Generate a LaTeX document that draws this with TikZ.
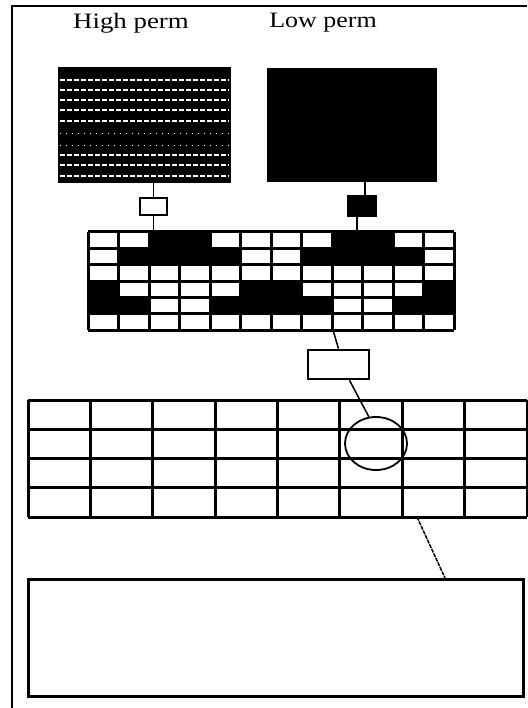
\documentclass[tikz,border=0pt]{standalone}
\usepackage{fontspec}
\setmainfont{Liberation Serif}
\usepackage{graphicx}
\usetikzlibrary{shapes.geometric}
\begin{document}
\begin{tikzpicture}[x=1pt,y=-1pt,
  framel/.style={line width=2pt},
  gridl/.style={line width=3pt},
  conn/.style={line width=1.5pt},
  boxn/.style={draw,line width=2.6pt,rectangle,inner sep=0pt},
  blockn/.style={rectangle,inner sep=0pt,anchor=north west},
  title/.style={font=\fontsize{22}{24}\selectfont,inner sep=0pt},
  whitedash/.style={white,line width=1.4pt,dash pattern=on 5pt off 2pt},
  whitedot/.style={white,line width=0.8pt,dash pattern=on 1pt off 5pt}]
\useasboundingbox (0,0) rectangle (527,708);
% outer frame (open at right and bottom)
\draw[framel] (12,708) -- (12,6) -- (527,6);
% titles
\node[title] (t1) at (131,23) {\scalebox{1.22}[1]{High perm}};
\node[title] (t2) at (323,23) {\scalebox{1.18}[1]{Low perm}};
% high perm fine grid
\node[blockn,fill=black,minimum width=173pt,minimum height=116pt] (hp) at (58,67) {};
\foreach \yy in {80,90,100,110,121,155,165,176}
  \draw[whitedash] (60,\yy) -- (229,\yy);
\foreach \yy in {133,145}
  \draw[whitedot] (60,\yy) -- (229,\yy);
% low perm block
\node[blockn,fill=black,minimum width=170pt,minimum height=114pt] (lp) at (267,68) {};
% small upscaling boxes
\node[boxn,minimum width=27pt,minimum height=17pt,fill=white] (hb) at (153.5,206.5) {};
\node[boxn,minimum width=28pt,minimum height=20pt,fill=black] (lb) at (362,206) {};
% middle grid
\node[blockn,minimum width=366pt,minimum height=98pt] (mg) at (88,232) {};
\foreach \c/\r in {3/1,4/1,9/1,10/1,
                   2/2,3/2,4/2,5/2,8/2,9/2,10/2,11/2,
                   1/4,6/4,7/4,12/4,
                   1/5,2/5,5/5,6/5,7/5,8/5,11/5,12/5}
  \fill[black] ({88+30.5*(\c-1)},{232+98/6*(\r-1)}) rectangle ++(30.5,{98/6});
\foreach \i in {0,...,12}
  \draw[gridl] ({88+30.5*\i},232) -- ({88+30.5*\i},330);
\foreach \j in {0,...,6}
  \draw[gridl] (88,{232+98/6*\j}) -- (454,{232+98/6*\j});
% medium box
\node[boxn,minimum width=61pt,minimum height=29pt] (mb) at (338.5,364.5) {};
% big grid
\node[blockn,minimum width=499pt,minimum height=117pt] (bg) at (28,400) {};
\foreach \i in {0,...,8}
  \draw[line width=3pt] ({28+62.375*\i},400) -- ({28+62.375*\i},517);
\foreach \j in {0,...,4}
  \draw[line width=3pt] (28,{400+29.25*\j}) -- (527,{400+29.25*\j});
% ellipse
\node[draw,ellipse,line width=1.8pt,minimum width=62pt,minimum height=53pt,inner sep=0pt] (el) at (376,443.5) {};
% bottom box
\node[boxn,blockn,minimum width=495pt,minimum height=117pt] (bb) at (27,578) {};
% connectors
\coordinate (c1) at (333,330);
\coordinate (c2) at (417,517);
\coordinate (c3) at (445,578);
\draw[conn] (hb.north |- hp.south) -- (hb.north);
\draw[conn] (hb.south) -- (hb.south |- mg.north);
\draw[conn] ([xshift=3pt]lb.north |- lp.south) -- ([xshift=3pt]lb.north);
\draw[conn] ([xshift=-5pt]lb.south) -- ([xshift=-5pt]lb.south |- mg.north);
\draw[conn] (c1) -- (mb.north);
\draw[conn] ([xshift=11pt]mb.south) -- (el.105);
\draw[conn,dash pattern=on 4pt off 1pt] (c2) -- (c3);
\end{tikzpicture}
\end{document}
